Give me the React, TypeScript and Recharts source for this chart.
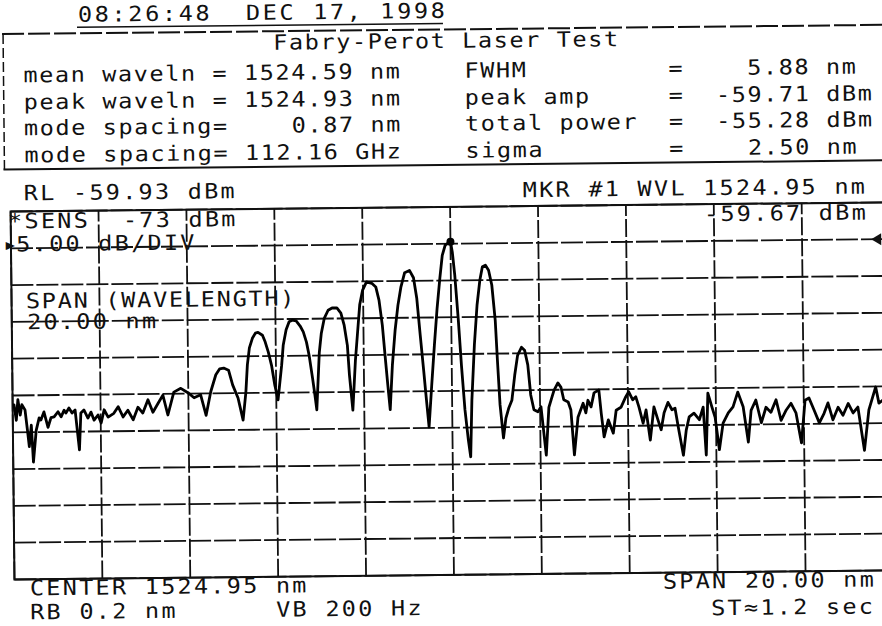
import { LineChart, Line, XAxis, YAxis, ReferenceLine, ReferenceArea, ReferenceDot } from 'recharts';

// OSA trace, in three stretches (wavelength nm / level dBm)
const LEFT_NM = [
  1514.95, 1514.98, 1515.03, 1515.07, 1515.12, 1515.16, 1515.23, 1515.28, 1515.32, 1515.37,
  1515.41, 1515.48, 1515.55, 1515.59, 1515.66, 1515.75, 1515.82, 1515.89, 1515.98, 1516.05,
  1516.12, 1516.16, 1516.23, 1516.30, 1516.37, 1516.46, 1516.50, 1516.57, 1516.66, 1516.73,
  1516.80, 1516.89, 1516.96, 1517.03, 1517.12, 1517.25, 1517.35, 1517.46, 1517.57, 1517.69,
  1517.80, 1517.91, 1518.03, 1518.14, 1518.26, 1518.37, 1518.48, 1518.62, 1518.78, 1518.94,
  1519.08, 1519.23, 1519.35,
];
const LEFT_DBM = [
  -81.2, -81.2, -83.3, -80.5, -82.6, -81.2, -81.9, -84.6, -86.9, -84.0,
  -89.0, -84.7, -83.0, -83.3, -82.2, -84.3, -83.0, -82.9, -82.2, -82.9,
  -82.0, -82.4, -81.7, -82.4, -82.0, -87.4, -82.4, -82.0, -83.1, -82.3,
  -83.4, -82.7, -83.8, -82.0, -83.0, -82.5, -81.6, -83.0, -82.1, -83.4,
  -81.7, -82.5, -80.7, -82.4, -81.2, -80.1, -82.8, -79.7, -79.2, -79.8,
  -80.5, -80.1, -82.9,
];

const MODES_NM = [
  1519.46, 1519.58, 1519.67, 1519.76, 1519.87, 1519.96, 1520.08, 1520.19,
  1520.26, 1520.30, 1520.35, 1520.42, 1520.49, 1520.55, 1520.65, 1520.71, 1520.78, 1520.85, 1520.92, 1520.99,
  1521.08, 1521.12, 1521.19, 1521.26, 1521.33, 1521.42, 1521.51, 1521.58, 1521.65, 1521.71, 1521.78, 1521.83, 1521.87,
  1521.94, 1521.99, 1522.06, 1522.15, 1522.24, 1522.35, 1522.44, 1522.51, 1522.58, 1522.62, 1522.69,
  1522.76, 1522.81, 1522.87, 1522.94, 1523.03, 1523.15, 1523.24, 1523.31, 1523.38, 1523.44, 1523.49, 1523.54,
  1523.60, 1523.67, 1523.74, 1523.81, 1523.90, 1524.01, 1524.10, 1524.17, 1524.24, 1524.31, 1524.35, 1524.42,
  1524.49, 1524.56, 1524.63, 1524.70, 1524.76, 1524.83, 1524.95, 1524.99, 1525.04, 1525.11, 1525.17, 1525.24, 1525.31, 1525.36,
  1525.40, 1525.47, 1525.54, 1525.61, 1525.67, 1525.74, 1525.81, 1525.88, 1525.95, 1525.99, 1526.04, 1526.11,
  1526.17, 1526.24, 1526.31, 1526.38, 1526.45, 1526.54, 1526.61, 1526.68, 1526.74, 1526.81, 1526.90, 1526.97, 1527.08,
];
const MODES_DBM = [
  -79.7, -77.4, -76.6, -76.5, -76.8, -78.8, -80.6, -83.6,
  -79.8, -76.1, -73.8, -72.5, -71.8, -71.7, -72.1, -73.0, -74.4, -76.2, -78.9, -80.9,
  -76.2, -73.5, -71.4, -70.3, -70.1, -70.2, -70.9, -71.7, -73.1, -75.0, -78.0, -80.3, -82.3,
  -74.5, -71.9, -69.9, -68.8, -68.5, -68.5, -69.2, -70.8, -73.6, -77.6, -82.4,
  -75.6, -72.2, -68.1, -66.1, -65.0, -65.2, -65.7, -67.5, -70.9, -75.4, -79.0, -82.4,
  -76.3, -71.6, -68.2, -65.8, -63.8, -63.5, -64.5, -67.3, -72.3, -77.1, -80.0, -84.8,
  -79.1, -73.7, -68.7, -64.6, -61.5, -60.1, -59.67, -61.1, -64.2, -70.3, -76.4, -82.5, -86.6, -88.9,
  -81.2, -73.7, -68.3, -64.9, -63.1, -62.9, -63.6, -65.6, -70.4, -75.8, -81.9, -86.4,
  -83.7, -82.3, -81.3, -77.9, -75.2, -74.1, -74.5, -76.5, -80.6, -82.6, -82.9, -82.2, -88.8,
];

const RIGHT_NM = [
  1527.15, 1527.27, 1527.36, 1527.43, 1527.49, 1527.59, 1527.65, 1527.72, 1527.81, 1527.93,
  1527.99, 1528.04, 1528.11, 1528.18, 1528.29, 1528.34, 1528.40, 1528.50, 1528.61, 1528.68,
  1528.79, 1528.90, 1528.97, 1529.06, 1529.13, 1529.20, 1529.29, 1529.36, 1529.45, 1529.54,
  1529.63, 1529.70, 1529.77, 1529.86, 1529.95, 1530.02, 1530.09, 1530.20, 1530.27, 1530.34,
  1530.45, 1530.57, 1530.66, 1530.72, 1530.77, 1530.86, 1530.93, 1531.02, 1531.11, 1531.23,
  1531.34, 1531.45, 1531.57, 1531.68, 1531.75, 1531.86, 1531.98, 1532.09, 1532.20, 1532.32,
  1532.43, 1532.55, 1532.66, 1532.77, 1532.89, 1532.98, 1533.07, 1533.18, 1533.30, 1533.41,
  1533.50, 1533.61, 1533.73, 1533.84, 1533.96, 1534.07, 1534.18, 1534.32, 1534.43, 1534.59,
  1534.66, 1534.75, 1534.87, 1534.95,
];
const RIGHT_DBM = [
  -82.3, -80.0, -79.0, -79.6, -81.3, -81.6, -82.7, -88.8, -83.7, -81.8,
  -83.1, -81.4, -82.3, -80.4, -80.0, -83.2, -86.4, -84.1, -85.9, -82.8,
  -82.4, -81.0, -80.3, -81.4, -81.0, -82.4, -84.6, -82.8, -86.9, -82.4,
  -84.2, -85.5, -83.2, -81.8, -82.8, -82.6, -85.2, -89.0, -85.6, -83.8,
  -83.3, -84.2, -82.5, -89.0, -80.6, -82.5, -83.9, -88.3, -84.7, -83.3,
  -82.5, -80.5, -82.5, -87.3, -83.0, -81.6, -84.7, -82.6, -83.3, -81.6,
  -84.4, -83.0, -82.1, -83.4, -87.5, -81.7, -81.4, -83.0, -84.8, -83.5,
  -82.1, -84.4, -82.7, -83.8, -82.2, -83.5, -82.7, -88.6, -83.1, -80.0,
  -82.2, -81.8, -82.5, -81.5,
];

// graticule: 10 divisions of 2 nm, 10 divisions of 5 dB
const X_GRID_NM = [1514.95, 1516.95, 1518.95, 1520.95, 1522.95, 1524.95, 1526.95, 1528.95, 1530.95, 1532.95, 1534.95];
const Y_GRID_DBM = [-54.93, -59.93, -64.93, -69.93, -74.93, -79.93, -84.93, -89.93, -94.93, -99.93, -104.93];

const MARKER_NM = 1524.95;
const MARKER_DBM = -59.67;
const REF_LEVEL_DBM = -59.93;

const TIME_STAMP = '08:26:48  DEC 17, 1998';
const TITLE = 'Fabry-Perot Laser Test';
const LEFT_ROWS = ['mean waveln = 1524.59 nm', 'peak waveln = 1524.93 nm', 'mode spacing=    0.87 nm', 'mode spacing= 112.16 GHz'];
const RIGHT_LABELS = ['FWHM', 'peak amp', 'total power', 'sigma'];
const RIGHT_VALUES = ['5.88', '-59.71', '-55.28', '2.50'];
const RIGHT_UNITS = ['nm', 'dBm', 'dBm', 'nm'];
const ROW_TOPS = [61.4, 88.4, 114.4, 141.4];

const traceData = [
  ...LEFT_NM.map((wl, i) => ({ wl, dbm: LEFT_DBM[i] })),
  ...MODES_NM.map((wl, i) => ({ wl, dbm: MODES_DBM[i] })),
  ...RIGHT_NM.map((wl, i) => ({ wl, dbm: RIGHT_DBM[i] })),
];

const FONT = '"DejaVu Sans Mono", monospace';
const INK = '#111';
const STRETCH = 1.12;
const HEAD_PITCH = 15.75;

function Txt({ x, y, text, pitch = 16.4 }: { x: number; y: number; text: string; pitch?: number }) {
  return (
    <div
      style={{
        position: 'absolute',
        left: x,
        top: y,
        fontFamily: FONT,
        fontSize: 21,
        lineHeight: '20px',
        letterSpacing: pitch / STRETCH - 21 * 0.602,
        whiteSpace: 'pre',
        color: INK,
        transform: `scaleX(${STRETCH})`,
        transformOrigin: 'left top',
      }}
    >
      {text}
    </div>
  );
}

const RefArrow = (props: any) => {
  const { cx, cy } = props;
  return <path d={`M${cx - 6},${cy} L${cx + 4},${cy - 6} L${cx + 4},${cy + 6} Z`} fill={INK} />;
};

export default function App() {
  return (
    <div style={{ position: 'fixed', left: 0, top: 0, width: 882, height: 626, overflow: 'hidden', background: '#fff' }}>
      <div
        style={{
          position: 'absolute',
          left: 0,
          top: 0,
          width: 882,
          height: 626,
          transform: 'rotate(-0.6deg)',
          transformOrigin: '441px 313px',
        }}
      >
        <div style={{ position: 'absolute', left: 0, top: 0 }}>
          <LineChart
            width={905}
            height={626}
            data={traceData}
            margin={{ top: 207, right: 14.3, bottom: 51, left: 11.7 }}
          >
            <XAxis type="number" dataKey="wl" domain={[1514.95, 1534.95]} hide allowDataOverflow />
            <YAxis type="number" domain={[-104.93, -54.93]} hide allowDataOverflow />
            {X_GRID_NM.map((v) => (
              <ReferenceLine key={'x' + v} x={v} stroke={INK} strokeWidth={1.8} strokeDasharray="18 3" />
            ))}
            {Y_GRID_DBM.map((v) => (
              <ReferenceLine key={'y' + v} y={v} stroke={INK} strokeWidth={1.8} strokeDasharray="22 3" />
            ))}
            <ReferenceArea
              x1={1514.95}
              x2={1534.95}
              y1={-104.93}
              y2={-54.93}
              fill="none"
              fillOpacity={0}
              stroke={INK}
              strokeWidth={2}
            />
            <Line
              type="linear"
              dataKey="dbm"
              stroke="#000"
              strokeWidth={2.8}
              strokeLinejoin="round"
              dot={false}
              isAnimationActive={false}
            />
            <ReferenceDot x={MARKER_NM} y={MARKER_DBM} r={4} fill="#000" stroke="none" />
            <ReferenceDot x={1534.66} y={REF_LEVEL_DBM} shape={RefArrow} />
          </LineChart>
        </div>

        <svg width={905} height={200} style={{ position: 'absolute', left: 0, top: 0 }}>
          <line x1={80} y1={23.5} x2={446} y2={23.5} stroke={INK} strokeWidth={1.5} />
          <line x1={5} y1={29.5} x2={900} y2={29.5} stroke={INK} strokeWidth={2} strokeDasharray="22 4" />
          <line x1={6} y1={29.5} x2={6} y2={165} stroke={INK} strokeWidth={1.5} strokeDasharray="10 4" />
          <line x1={5} y1={165} x2={900} y2={165} stroke={INK} strokeWidth={2} />
        </svg>

        <Txt x={80.5} y={1} text={TIME_STAMP} pitch={16.8} />
        <Txt x={275.5} y={31.4} text={TITLE} pitch={HEAD_PITCH} />
        {LEFT_ROWS.map((row, i) => (
          <Txt key={row} x={25.5} y={ROW_TOPS[i]} text={row} pitch={HEAD_PITCH} />
        ))}
        {RIGHT_LABELS.map((label, i) => (
          <Txt key={label} x={25.5 + 28 * HEAD_PITCH} y={ROW_TOPS[i]} text={label} pitch={HEAD_PITCH} />
        ))}
        {RIGHT_VALUES.map((v, i) => (
          <Txt
            key={'v' + i}
            x={25.5 + 41 * HEAD_PITCH}
            y={ROW_TOPS[i]}
            text={'=' + v.padStart(8) + ' ' + RIGHT_UNITS[i]}
            pitch={HEAD_PITCH}
          />
        ))}

        <Txt x={24.5} y={179.4} text="RL -59.93 dBm" />
        <Txt x={523.5} y={181.4} text="MKR #1 WVL 1524.95 nm" />
        <Txt x={704.5} y={207.4} text="-59.67 dBm" />
        <Txt x={8.5} y={207.4} text="*SENS  -73 dBm" />
        <Txt x={4} y={230.4} text={'\u25B8'} pitch={12} />
        <Txt x={17} y={230.4} text="5.00 dB/DIV" />
        <Txt x={25.5} y={286.9} text="SPAN (WAVELENGTH)" pitch={15.9} />
        <Txt x={26.5} y={308.4} text="20.00 nm" />

        <Txt x={26.5} y={574} text="CENTER 1524.95 nm" />
        <Txt x={26.5} y={598.4} text="RB 0.2 nm      VB 200 Hz" />
        <Txt x={659.5} y={574.4} text="SPAN 20.00 nm" />
        <Txt x={707.5} y={601.4} text={'ST\u22481.2 sec'} />
      </div>
    </div>
  );
}
